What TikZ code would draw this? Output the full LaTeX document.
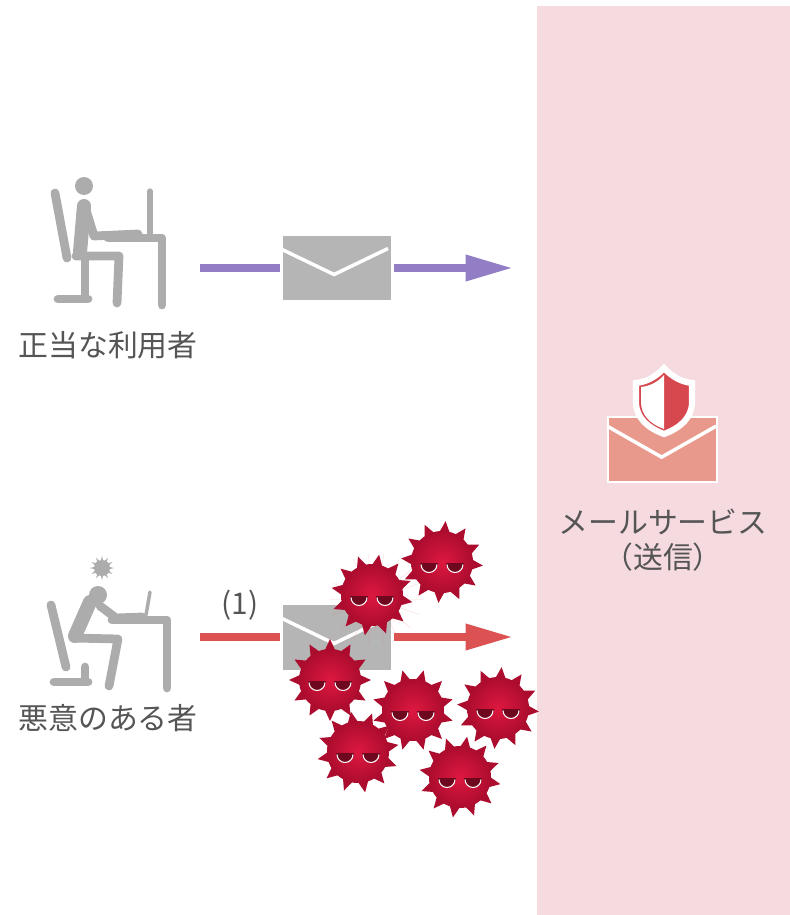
\documentclass[tikz,border=0pt]{standalone}
\usepackage{fontspec}
\setmainfont{Noto Sans CJK JP}
\usetikzlibrary{arrows.meta}
\definecolor{panelpink}{RGB}{245,218,224}
\definecolor{figgray}{RGB}{172,172,172}
\definecolor{envgray}{RGB}{180,181,180}
\definecolor{labelgray}{RGB}{85,85,85}
\definecolor{flowpurple}{RGB}{145,126,196}
\definecolor{flowred}{RGB}{220,82,82}
\definecolor{envsalmon}{RGB}{233,152,140}
\definecolor{shieldred}{RGB}{215,72,78}
\definecolor{virlight}{RGB}{222,24,64}
\definecolor{virdark}{RGB}{172,12,46}
\definecolor{vireye}{RGB}{110,8,30}
\definecolor{halored}{RGB}{238,112,98}

\tikzset{
  figline/.style={draw=figgray, line width=5pt, line cap=round, line join=round},
  envbox/.style={fill=envgray, minimum width=2.16cm, minimum height=1.3cm, inner sep=0pt, outer sep=1.7pt},
  flow/.style={line width=4.5pt},
  tip/.style={-{Triangle[length=27pt,width=14pt]}},
  lbl/.style={text=labelgray, font=\fontsize{17}{21}\selectfont, inner sep=0pt, align=center},
}

% virus: [rotation]{x}{y}
\newcommand{\virus}[3][0]{%
  \begin{scope}[shift={(#2,#3)}]
    \foreach \a in {0,30,...,330}
      \fill[virdark] (\a+#1-13:28) -- (\a+#1:41) -- (\a+#1+13:28) -- cycle;
    \shade[inner color=virlight, outer color=virdark] (-4,-5) circle (0.1) (0,0) circle (31);
    \foreach \e in {-13,13}{
      \fill[vireye] (\e-9,1) arc[start angle=180, end angle=0, radius=9] -- cycle;
      \draw[white, line width=0.6pt] (\e-8,2.5) arc[start angle=180, end angle=0, radius=8];
    }
  \end{scope}}

\begin{document}
\begin{tikzpicture}[x=0.02cm, y=-0.02cm]
\useasboundingbox (0,0) rectangle (790,915);
\fill[panelpink] (537,6) rectangle (790,915); % service

% utilisateur
\fill[figgray] (84,186) circle (9);
\draw[figline] (55,193) -- (67,258); % dossier
\draw[figline] (85,258) -- (85,298) (58,299) -- (88,299);
\draw[figline, line width=8pt] (84,206) -- (80,252);
\draw[figline] (86,210) -- (94,236) -- (138,234);
\draw[figline] (76,256) -- (119,256) -- (117,303);
\draw[figline] (108,238) -- (162,238) -- (162,305); % bureau
\draw[figline, line width=3pt] (150,191) -- (150,233);

% attaquant
\begin{scope}[shift={(102,568)}]
  \foreach \a in {0,30,...,330}
    \fill[figgray] (\a-15:6) -- (\a:12) -- (\a+15:6) -- cycle;
  \fill[figgray] (0,0) circle (8);
\end{scope}
\fill[figgray] (98,595) circle (9);
\draw[figline, line width=8pt] (90,602) -- (75,636);
\draw[figline] (100,606) -- (116,618) -- (142,617);
\draw[figline] (51,605) -- (66,667);
\draw[figline] (85,667) -- (85,681) (54,682) -- (88,682);
\draw[figline] (73,638) -- (118,639) -- (109,686);
\draw[figline] (112,620) -- (167,620) -- (167,688);
\draw[figline, line width=2pt] (150,592) -- (146,615);

% flux legitime
\node[envbox] (env1) at (337,268) {};
\draw[white, line width=2pt] (env1.north west) ++(0,16) -- ++(54,26) -- ++(54,-26);
\coordinate (user) at (200,268);
\coordinate (in1) at (513,268);
\draw[flow, flowpurple] (user) -- (env1);
\draw[flow, flowpurple, tip] (env1) -- (in1);

% flux malveillant
\node[envbox] (env2) at (337,637) {};
\draw[white, line width=2pt] (env2.north west) ++(0,16) -- ++(54,26) -- ++(54,-26);
\coordinate (att) at (200,637);
\coordinate (in2) at (513,637);
\draw[flow, flowred] (att) -- (env2);
\draw[flow, flowred, tip] (env2) -- (in2);
\node[lbl] (steplbl) at (240,605) {(1)};

% textes
\node[lbl] (userlbl) at (108,345) {正当な利用者};
\node[lbl] (attlbl) at (108,718) {悪意のある者};
\node[lbl] (svclbl) at (663,522) {メールサービス};
\node[lbl] (svcsub) at (663,557) {（送信）};

% service mail + bouclier
\node[fill=envsalmon, draw=white, line width=1pt, minimum width=2.18cm, minimum height=1.3cm, inner sep=0pt] (svc) at (662.5,449.5) {};
\draw[white, line width=2pt] (svc.north west) ++(0,10) -- ++(54.5,31) -- ++(54.5,-31);
\filldraw[fill=shieldred, draw=white, line width=3.5pt] (664,368) .. controls (656,377) and (646,382) .. (636,383)
  -- (636,402) .. controls (636,418) and (648,428) .. (664,434)
  .. controls (680,428) and (692,418) .. (692,402) -- (692,383)
  .. controls (682,382) and (672,377) .. (664,368) -- cycle;
\fill[white] (664,375) .. controls (658,382) and (650,386) .. (641,387)
  -- (641,402) .. controls (641,415) and (650,424) .. (664,429) -- cycle;

% virus
\foreach \a in {0,20,...,340}
  \fill[halored, opacity=.8] (376,599) ++(\a-9:30) -- (376,599) ++(\a:46) -- (376,599) ++(\a+9:30) -- cycle;
\virus[5]{442}{562}
\virus[10]{372}{595}
\virus[0]{330}{680}
\virus[15]{413}{710}
\virus[5]{498}{708}
\virus[20]{358}{752}
\virus[10]{460}{777}
\end{tikzpicture}
\end{document}
